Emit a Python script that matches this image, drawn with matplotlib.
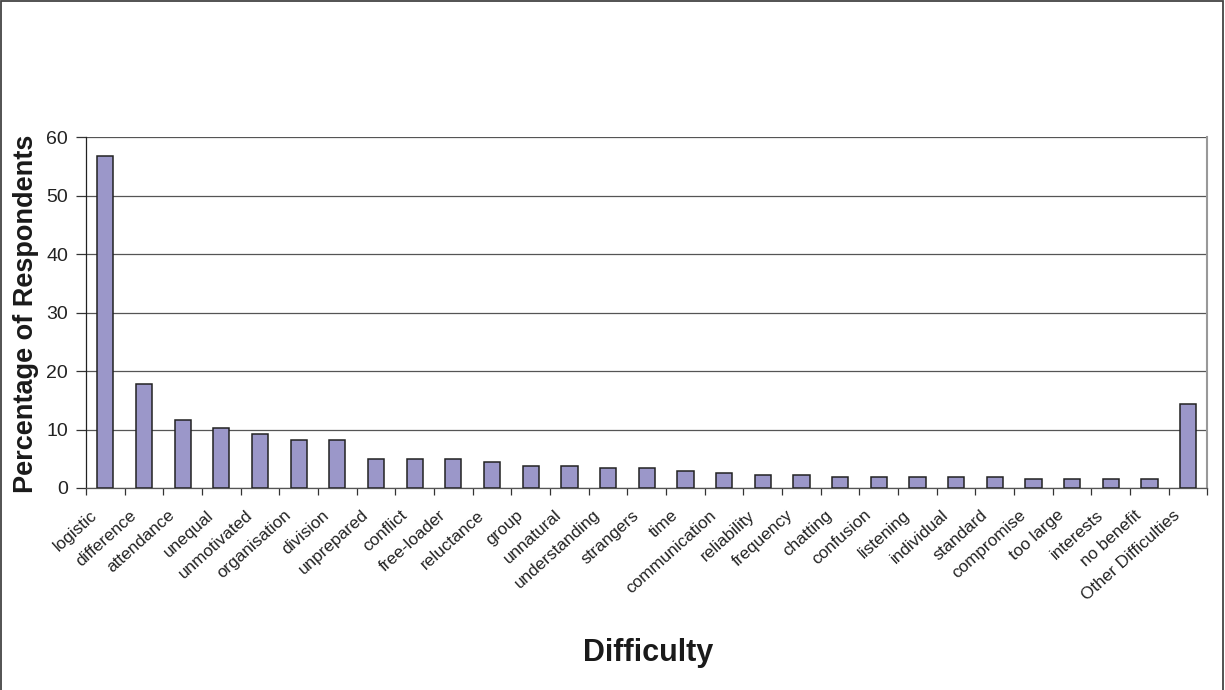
import matplotlib.pyplot as plt
import matplotlib.transforms as mtransforms
from matplotlib.patches import Rectangle
import numpy as np

plt.rcParams['font.family'] = ['Liberation Sans', 'DejaVu Sans']

# survey results: share of respondents naming each difficulty
difficulties = ['logistic', 'difference', 'attendance', 'unequal', 'unmotivated',
                'organisation', 'division', 'unprepared', 'conflict', 'free-loader',
                'reluctance', 'group', 'unnatural', 'understanding', 'strangers',
                'time', 'communication', 'reliability', 'frequency', 'chatting',
                'confusion', 'listening', 'individual', 'standard', 'compromise',
                'too large', 'interests', 'no benefit', 'Other Difficulties']
percent = [56.8, 17.8, 11.7, 10.2, 9.3,
           8.2, 8.2, 5.0, 5.0, 5.0,
           4.4, 3.8, 3.8, 3.5, 3.5,
           2.9, 2.6, 2.3, 2.3, 1.8,
           1.8, 1.8, 1.8, 1.8, 1.5,
           1.5, 1.5, 1.5, 14.3]
yticks = [0, 10, 20, 30, 40, 50, 60]

fig = plt.figure(figsize=(12.25, 6.9), dpi=100)
fig.patch.set_facecolor('white')
ax = fig.add_axes([0.0702, 0.2928, 0.9155, 0.508])

x = np.arange(len(difficulties))
ax.bar(x, percent, width=0.42, color='#9b97c9', edgecolor='#222222',
       linewidth=1.1, zorder=3)

ax.set_xlim(-0.5, len(difficulties) - 0.5)
ax.set_ylim(0, 60)
ax.set_yticks(yticks)
ax.yaxis.grid(True, color='#555555', linewidth=0.9, zorder=0)
ax.tick_params(axis='y', direction='out', length=7, width=0.9, colors='#333333',
               labelsize=14, pad=6)
ax.tick_params(axis='y', labelcolor='#222222')

# category ticks sit between bars, labels under each bar
ax.set_xticks(np.arange(len(difficulties) + 1) - 0.5)
ax.set_xticklabels([])
ax.tick_params(axis='x', direction='out', length=5, width=0.9, colors='#333333')
offset = mtransforms.ScaledTranslation(-10 / 100, -25 / 100, fig.dpi_scale_trans)
for i, name in enumerate(difficulties):
    ax.text(i, 0, name, rotation=42, rotation_mode='anchor', ha='right',
            va='center', fontsize=12.3, color='#222222',
            transform=ax.get_xaxis_transform() + offset)

ax.spines['top'].set_visible(False)
ax.spines['right'].set_color('#999999')
ax.spines['right'].set_linewidth(1.5)
ax.spines['left'].set_color('#222222')
ax.spines['left'].set_linewidth(0.9)
ax.spines['bottom'].set_color('#555555')
ax.spines['bottom'].set_linewidth(0.9)

fig.text(0.021, 0.5455, 'Percentage of Respondents', rotation=90, ha='center',
         va='center', fontsize=19.5, fontweight='bold', color='#1a1a1a')
fig.text(0.529, 0.053, 'Difficulty', ha='center', va='center', fontsize=22,
         fontweight='bold', color='#1a1a1a')

# chart frame, open at the bottom edge
fig.patches.append(Rectangle((0.0012, -0.05), 0.9975, 1.048, transform=fig.transFigure,
                             fill=False, edgecolor='#444444', linewidth=1.3))

fig.savefig('out.png', dpi=100, facecolor='white')
